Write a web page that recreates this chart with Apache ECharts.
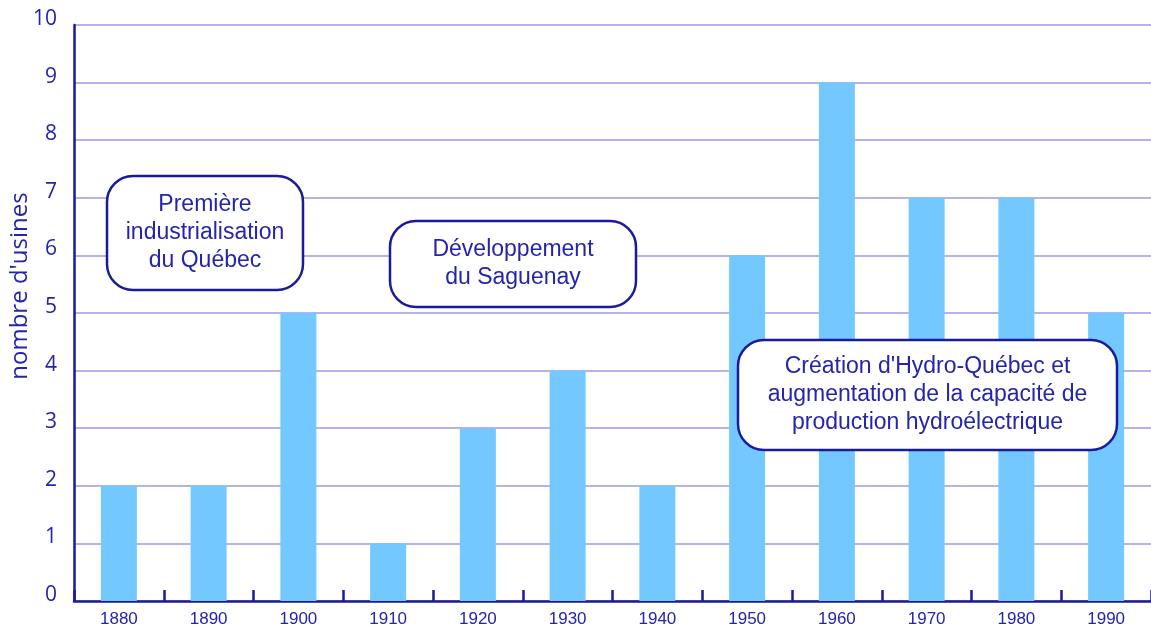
<!DOCTYPE html>
<html><head><meta charset="utf-8">
<script src="https://cdn.jsdelivr.net/npm/echarts@6/dist/echarts.min.js"></script>
<style>html,body{margin:0;padding:0;background:#fff}#c{width:1151px;height:628px}</style>
</head><body><div id="c"></div>
<script>
const categories = ['1880','1890','1900','1910','1920','1930','1940','1950','1960','1970','1980','1990'];
const usines = [2,2,5,1,3,4,2,6,9,7,7,5];
const yTicks = [0,1,2,3,4,5,6,7,8,9,10];
const yName = "nombre d'usines";
const notes = [
  'Première\nindustrialisation\ndu Québec',
  'Développement\ndu Saguenay',
  "Création d'Hydro-Québec et\naugmentation de la capacité de\nproduction hydroélectrique"
];
const textColor = '#2424ac';
const lineColor = '#1a1a9a';
function box(x,y,w,h,txt){
  return [{type:'rect',shape:{x:x,y:y,width:w,height:h,r:26},style:{fill:'#fff',stroke:lineColor,lineWidth:2.5},z:100},
  {type:'text',x:x+w/2,y:y+h/2,style:{text:txt,fill:textColor,font:'23px "Liberation Sans", Arial, sans-serif',lineHeight:28,textAlign:'center',textVerticalAlign:'middle'},z:101}];
}
const chart = echarts.init(document.getElementById('c'));
chart.setOption({
  animation:false,
  grid:{left:74,top:25,width:1080,bottom:25,containLabel:false},
  xAxis:{type:'category',data:categories,
    axisLine:{show:true,lineStyle:{color:lineColor,width:2.5}},
    axisTick:{show:true,inside:true,length:11,lineStyle:{color:lineColor,width:2.5}},
    axisLabel:{color:textColor,fontSize:17,fontFamily:'"Liberation Sans", Arial, sans-serif',margin:10}},
  yAxis:{type:'value',min:0,max:10,interval:1,
    axisLine:{show:true,lineStyle:{color:lineColor,width:2.5}},
    axisTick:{show:false},
    axisLabel:{color:textColor,fontSize:21,fontFamily:'"Open Sans", sans-serif',margin:17,verticalAlign:'bottom',lineHeight:12,
      formatter:v=>yTicks.includes(v)?String(v):''},
    splitLine:{lineStyle:{color:'#b4b4ea',width:2}}},
  series:[{type:'bar',data:usines,barWidth:36,itemStyle:{color:'#73c8ff'},z:1}],
  graphic:[
    {type:'text',x:20,y:286,rotation:Math.PI/2,style:{text:yName,fill:textColor,font:'24px "Open Sans", sans-serif',textAlign:'center',textVerticalAlign:'middle'}},
    ...box(107,176,196,114,notes[0]),
    ...box(390,221,246,86,notes[1]),
    ...box(738,340,379,110,notes[2])
  ]
});
</script></body></html>
